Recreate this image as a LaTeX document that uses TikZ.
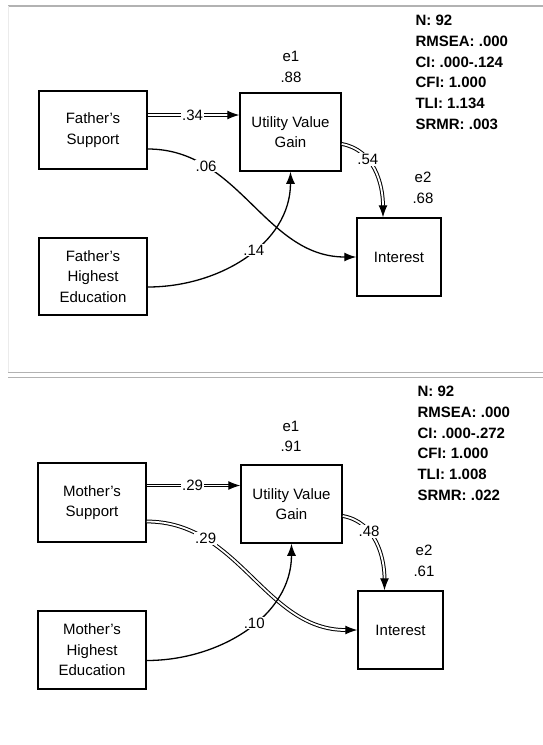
\documentclass[tikz,border=0pt]{standalone}
\usepackage{fontspec}
\setmainfont{Liberation Sans}
\usetikzlibrary{arrows.meta}

\begin{document}
\begin{tikzpicture}[x=1pt,y=-1pt,>={Latex[length=12pt,width=9pt]},
    font=\fontsize{15}{20.5}\selectfont,
    box/.style={draw,line width=1.5pt,align=center,inner sep=0pt},
    nsig/.style={->,line width=1.3pt},
    sig/.style={->,line width=1pt,double,double distance=1.8pt},
    coef/.style={fill=white,inner sep=1pt},
    err/.style={align=center},
    gof/.style={font=\fontsize{15}{18}\selectfont\bfseries,anchor=base west}]
    \useasboundingbox (0,0) rectangle (543,745);

    % screenshot frame
    \draw[black!30,line width=1.5pt] (8,6) -- (543,6);
    \draw[black!8] (8,6) -- (8,372);
    \draw[black!30] (8,372) -- (543,372);
    \draw[black!30] (8,377) -- (543,377);

    % father model
    \node[box,minimum width=108,minimum height=78] (fs1) at (93,130) {Father's\\Support};
    \node[box,minimum width=108,minimum height=77] (fhe1) at (93,276.5) {Father's\\Highest\\Education};
    \node[box,minimum width=101,minimum height=78] (uvg1) at (290.5,132) {Utility Value\\Gain};
    \node[box,minimum width=84,minimum height=78] (int1) at (399,257) {Interest};
    \node[err] (e1a) at (291,67) {e1\\.88};
    \node[err] (e2a) at (423,188) {e2\\.68};
    \foreach \t [count=\i] in {N: 92,RMSEA: .000,CI: .000-.124,CFI: 1.000,TLI: 1.134,SRMR: .003}
        \node[gof] (gofa\i) at (412,{25.4+20.8*(\i-1)}) {\t};

    \draw[sig] ([yshift=15pt]fs1.east) -- node[coef,pos=.49] (c1a) {.34}
        ([yshift=15pt]fs1.east -| uvg1.west);
    \draw[nsig] ([yshift=-19pt]fs1.east) to[out=0,in=180]
        node[coef,pos=.25] (c2a) {.06} (int1.west);
    \draw[nsig] ([yshift=-10.5pt]fhe1.east) to[out=0,in=-90]
        node[coef,pos=.55] (c3a) {.14} (uvg1.south);
    \draw[sig] ([yshift=-12pt]uvg1.east) to[out=-10,in=90]
        node[coef,pos=.35] (c4a) {.54} ([xshift=-16pt]int1.north);

    % mother model
    \node[box,minimum width=108,minimum height=79] (fs2) at (92,502.5) {Mother's\\Support};
    \node[box,minimum width=108,minimum height=78] (fhe2) at (92,650) {Mother's\\Highest\\Education};
    \node[box,minimum width=101,minimum height=78] (uvg2) at (291.5,504) {Utility Value\\Gain};
    \node[box,minimum width=85,minimum height=78] (int2) at (400.5,630) {Interest};
    \node[err] (e1b) at (291,436.5) {e1\\.91};
    \node[err] (e2b) at (424,561) {e2\\.61};
    \foreach \t [count=\i] in {N: 92,RMSEA: .000,CI: .000-.272,CFI: 1.000,TLI: 1.008,SRMR: .022}
        \node[gof] (gofb\i) at (414,{396.4+20.8*(\i-1)}) {\t};

    \draw[sig] ([yshift=17pt]fs2.east) -- node[coef,pos=.49] (c1b) {.29}
        ([yshift=17pt]fs2.east -| uvg2.west);
    \draw[sig] ([yshift=-19pt]fs2.east) to[out=0,in=180]
        node[coef,pos=.25] (c2b) {.29} (int2.west);
    \draw[nsig] ([yshift=-10.5pt]fhe2.east) to[out=0,in=-90]
        node[coef,pos=.55] (c3b) {.10} (uvg2.south);
    \draw[sig] ([yshift=-12pt]uvg2.east) to[out=-10,in=90]
        node[coef,pos=.35] (c4b) {.48} ([xshift=-16pt]int2.north);
\end{tikzpicture}
\end{document}
